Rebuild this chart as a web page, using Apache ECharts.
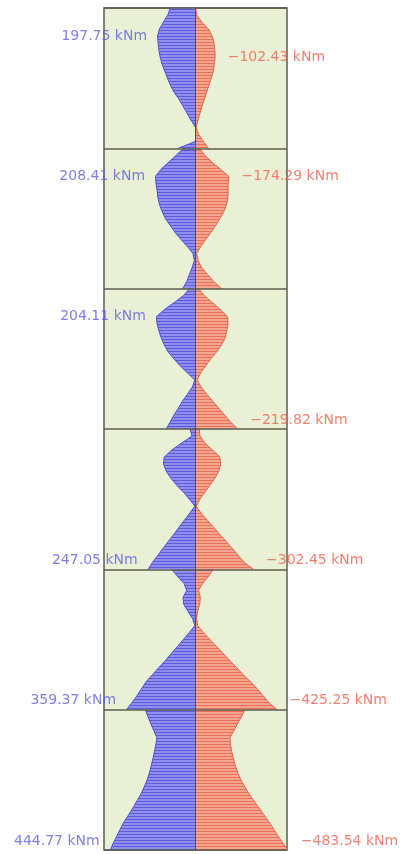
<!DOCTYPE html>
<html>
<head>
<meta charset="utf-8">
<script src="https://cdn.jsdelivr.net/npm/echarts@6/dist/echarts.min.js"></script>
<style>
html,body{margin:0;padding:0;background:#fff}
#main{width:401px;height:854px}
</style>
</head>
<body>
<div id="main"></div>
<script>
// moment envelope per storey, 21 stations from top (0) to bottom (20) of each storey, kNm
var blue1 = [132,144,167,188,197.75,195,191,184,174,160,146,131,112,86,65,44,23,0,0,0,90];
var red1  = [0,6,32,67,87,96,101,102.43,98,93,82,70,58,46,34,23,13,4,16,41,67];
var blue2 = [63,101,141,181,208.41,206,200,196,188,174,157,132,106,75,42,13,6,18,32,46,67];
var red2  = [20,49,87,131,174.29,170,170,169,162,148,127,105,80,53,27,6,14,32,63,96,136];
var blue3 = [32,63,112,163,204.11,200,191,179,163,143,112,80,42,4,16,41,67,89,112,132,153];
var red3  = [16,46,89,131,167,170,163,155,136,110,80,53,27,8,29,58,89,120,151,183,219.82];
var blue4 = [29,18,72,124,163,167,153,129,98,63,32,3,30,58,86,113,141,169,196,224,247.05];
var red4  = [20,23,49,89,127,132,122,101,75,49,23,4,29,62,94,126,159,191,222,254,302.45];
var blue5 = [124,94,60,46,65,61,39,16,3,32,63,94,127,157,191,224,257,281,305,331,359.37];
var red5  = [92,68,37,16,25,22,11,6,11,41,75,110,144,179,214,248,286,321,352,383,425.25];
var blue6 = [262,248,233,217,201,207,214,222,231,240,252,267,284,305,326,349,373,392,410,428,444.77];
var red6  = [257,240,219,200,179,183,189,198,208,221,236,257,279,305,331,357,383,407,430,455,483.54];

var blues = [blue1, blue2, blue3, blue4, blue5, blue6];
var reds  = [red1, red2, red3, red4, red5, red6];
var STEPS = 20;

var stations = [];
for (var i = 0; i <= STEPS * 6; i++) stations.push(String(i));

function hatch(fill, stripe) {
  var c = document.createElement('canvas');
  c.width = 4; c.height = 3;
  var g = c.getContext('2d');
  g.fillStyle = fill; g.fillRect(0, 0, 4, 3);
  g.fillStyle = stripe; g.fillRect(0, 0, 4, 1);
  return { image: c, repeat: 'repeat' };
}
var blueFill = hatch('#8f8ff2', '#5c5cdc');
var redFill = hatch('#f6a690', '#ea6f58');

var series = [];
blues.forEach(function (arr, k) {
  series.push({
    type: 'line', symbol: 'none', z: 2,
    data: arr.map(function (v, i) { return [-v, k * STEPS + i]; }),
    lineStyle: { color: '#4d4dd4', width: 1 },
    areaStyle: { color: blueFill, opacity: 1 }
  });
});
reds.forEach(function (arr, k) {
  series.push({
    type: 'line', symbol: 'none', z: 2,
    data: arr.map(function (v, i) { return [v, k * STEPS + i]; }),
    lineStyle: { color: '#e6614c', width: 1 },
    areaStyle: { color: redFill, opacity: 1 }
  });
});

function peakItems(list, sign) {
  return list.map(function (arr, k) {
    var idx = 0;
    arr.forEach(function (v, i) { if (v > arr[idx]) idx = i; });
    return {
      value: [sign * arr[idx], k * STEPS + idx],
      label: { offset: idx === STEPS ? [0, -9] : [0, 0] }
    };
  });
}

var labelFont = { fontFamily: 'DejaVu Sans', fontSize: 14 };
series.push({
  type: 'scatter', clip: false, z: 20, symbolSize: 1,
  itemStyle: { color: 'rgba(0,0,0,0)' },
  data: peakItems(blues, -1),
  label: Object.assign({
    show: true, position: 'left', distance: 10, color: '#5e5ee2',
    formatter: function (p) { return Math.abs(p.value[0]).toFixed(2) + ' kNm'; }
  }, labelFont)
});
series.push({
  type: 'scatter', clip: false, z: 20, symbolSize: 1,
  itemStyle: { color: 'rgba(0,0,0,0)' },
  data: peakItems(reds, 1),
  label: Object.assign({
    show: true, position: 'right', distance: 12, color: '#f0604d',
    formatter: function (p) { return '\u2212' + p.value[0].toFixed(2) + ' kNm'; }
  }, labelFont)
});

var chart = echarts.init(document.getElementById('main'));
chart.setOption({
  animation: false,
  grid: {
    left: 104, right: 114, top: 8, bottom: 4,
    show: true, backgroundColor: '#e9f0d5',
    borderColor: '#5b5d4f', borderWidth: 1.5
  },
  xAxis: {
    type: 'value', min: -477, max: 477,
    axisLine: { show: false }, axisTick: { show: false },
    axisLabel: { show: false }, splitLine: { show: false }
  },
  yAxis: {
    type: 'category', data: stations, inverse: true, boundaryGap: false, z: 10,
    axisLine: { show: true, onZero: true, lineStyle: { color: '#4c4c68', width: 1 } },
    axisTick: { show: false }, axisLabel: { show: false },
    splitLine: {
      show: true,
      interval: function (idx) { return idx % STEPS === 0; },
      lineStyle: { color: '#5b5d4f', width: 1.5 }
    }
  },
  series: series
});
</script>
</body>
</html>
